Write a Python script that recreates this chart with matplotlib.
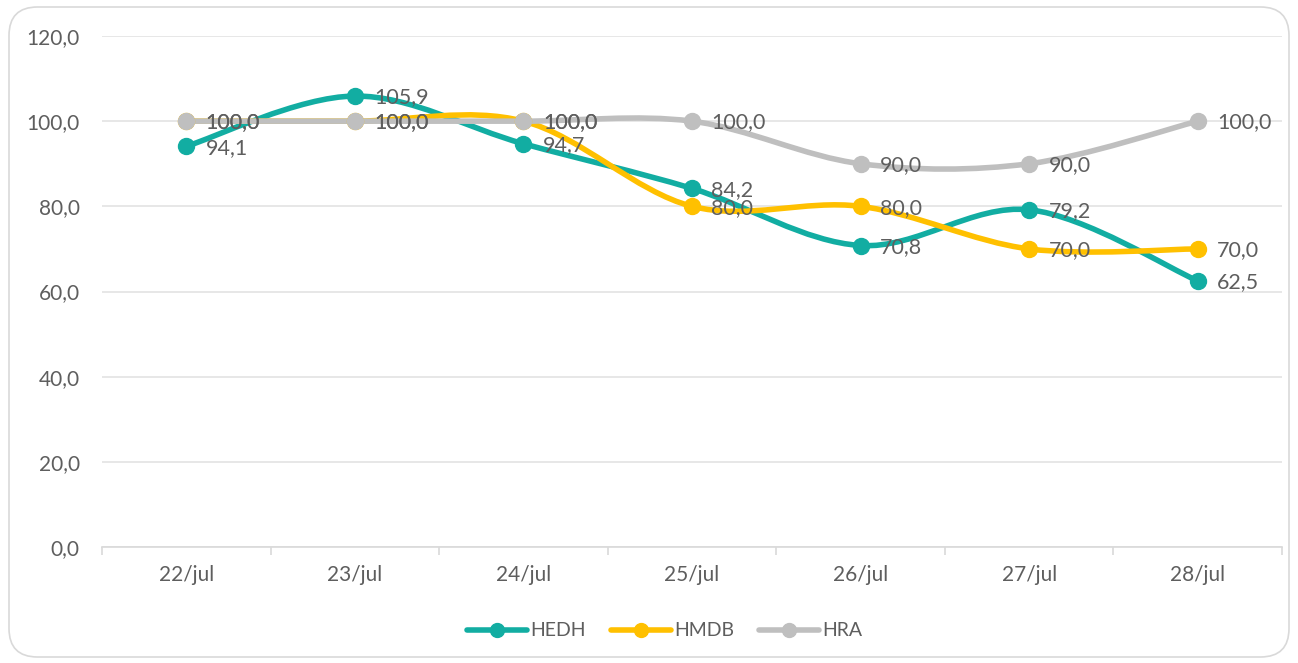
import numpy as np
import matplotlib.pyplot as plt
from matplotlib.path import Path
from matplotlib.patches import PathPatch, FancyBboxPatch
from matplotlib.lines import Line2D

plt.rcParams['font.family'] = ['Lato', 'DejaVu Sans']

dates = ['22/jul', '23/jul', '24/jul', '25/jul', '26/jul', '27/jul', '28/jul']
hedh = [94.1, 105.9, 94.7, 84.2, 70.8, 79.2, 62.5]
hmdb = [100.0, 100.0, 100.0, 80.0, 80.0, 70.0, 70.0]
hra = [100.0, 100.0, 100.0, 100.0, 90.0, 90.0, 100.0]

series = [('HEDH', hedh, '#12ADA2'), ('HMDB', hmdb, '#FFC000'), ('HRA', hra, '#BFBFBF')]
text_col = '#5E5E5E'


def smooth_path(xs, ys):
    # bezier curve through the points, like a spreadsheet "smoothed line"
    pts = np.column_stack([xs, ys]).astype(float)
    n = len(pts)
    verts = [pts[0]]
    codes = [Path.MOVETO]
    for i in range(n - 1):
        p0 = pts[max(i - 1, 0)]
        p1 = pts[i]
        p2 = pts[i + 1]
        p3 = pts[min(i + 2, n - 1)]
        c1 = p1 + (p2 - p0) / 6.0
        c2 = p2 - (p3 - p1) / 6.0
        verts += [c1, c2, p2]
        codes += [Path.CURVE4] * 3
    return Path(verts, codes)


fig = plt.figure(figsize=(12.98, 6.63), dpi=100)
border = FancyBboxPatch((9 / 1298, 6 / 663), 1280 / 1298, 650 / 663,
                        boxstyle='round,pad=0,rounding_size=0.022',
                        transform=fig.transFigure, facecolor='none',
                        edgecolor='#D9D9D9', linewidth=1.2, mutation_aspect=1298 / 663,
                        zorder=-5)
fig.patches.append(border)

ax = fig.add_axes([102 / 1298, 1 - 547 / 663, 1180 / 1298, 511 / 663])
ax.set_facecolor('none')
x = np.arange(len(dates))

for name, vals, col in series:
    ax.add_patch(PathPatch(smooth_path(x, vals), facecolor='none', edgecolor=col,
                           linewidth=4, capstyle='round', zorder=3))
    ax.plot(x, vals, 'o', color=col, markersize=11.5, zorder=4)

for name, vals, col in series:
    for xi, v in zip(x, vals):
        ax.annotate(f'{v:.1f}'.replace('.', ','), (xi, v), xytext=(14, -1),
                    textcoords='offset points', ha='left', va='center',
                    fontsize=15.5, color=text_col, zorder=6)

ax.set_xlim(-0.5, len(dates) - 0.5)
ax.set_ylim(0, 120)
ax.set_yticks(np.arange(0, 121, 20))
ax.set_yticklabels([f'{t:.1f}'.replace('.', ',') for t in np.arange(0, 121, 20)])
ax.set_xticks(x)
ax.set_xticklabels(dates)
ax.set_xticks(np.arange(-0.5, len(dates), 1), minor=True)
ax.grid(axis='y', color='#E3E3E3', linewidth=1.2, zorder=0)
for s in ['top', 'right', 'left']:
    ax.spines[s].set_visible(False)
ax.spines['bottom'].set_color('#D9D9D9')
ax.spines['bottom'].set_linewidth(1.2)
ax.tick_params(axis='y', length=0, pad=16, labelsize=15, labelcolor=text_col)
ax.tick_params(axis='x', which='major', length=0, pad=13, labelsize=15, labelcolor=text_col)
ax.tick_params(axis='x', which='minor', length=6, color='#D9D9D9', width=1.2)

handles = [Line2D([], [], color=col, linewidth=4, marker='o', markersize=10,
                  solid_capstyle='round') for _, _, col in series]
fig.legend(handles, [s[0] for s in series], loc='center', bbox_to_anchor=(0.512, 1 - 631 / 663),
           ncol=3, frameon=False, fontsize=14, labelcolor=text_col, handlelength=3.1,
           handletextpad=0.15, columnspacing=1.3)

fig.savefig('out.png', dpi=100)
